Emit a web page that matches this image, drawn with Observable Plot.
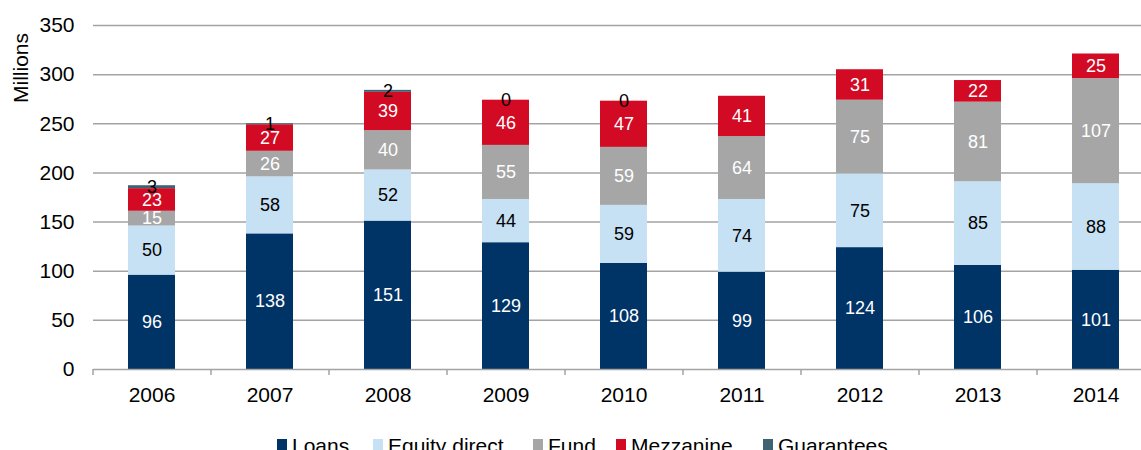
<!DOCTYPE html>
<html>
<head>
<meta charset="utf-8">
<script src="https://cdn.jsdelivr.net/npm/d3@7"></script>
<script src="https://cdn.jsdelivr.net/npm/@observablehq/plot@0.6"></script>
<style>
  html, body { margin: 0; padding: 0; background: #fff; overflow: hidden; }
  body { font-family: "Liberation Sans", Arial, sans-serif; }
  #legend { position: relative; height: 20px; font-size: 21px; color: #000; }
  #legend .item { position: absolute; top: 4.5px; line-height: 21px; white-space: nowrap; }
  #legend .sw { display: inline-block; width: 10px; height: 14px; margin-right: 5px; vertical-align: baseline; }
</style>
</head>
<body>
<div id="chart"></div>
<div id="legend"></div>
<script>
const years = ["2006", "2007", "2008", "2009", "2010", "2011", "2012", "2013", "2014"];
const loans = [96, 138, 151, 129, 108, 99, 124, 106, 101];
const equityDirect = [50, 58, 52, 44, 59, 74, 75, 85, 88];
const fund = [15, 26, 40, 55, 59, 64, 75, 81, 107];
const mezzanine = [23, 27, 39, 46, 47, 41, 31, 22, 25];
const guarantees = [3, 1, 2, 0, 0, null, null, null, null];
const seriesNames = ["Loans", "Equity direct", "Fund", "Mezzanine", "Guarantees"];
const seriesColors = ["#003366", "#c6e0f4", "#a6a6a6", "#d20a24", "#3f6372"];
const labelOnDark = [true, false, true, true, false];
const yTicks = [0, 50, 100, 150, 200, 250, 300, 350];

const seriesValues = [loans, equityDirect, fund, mezzanine, guarantees];

// long-form stacked table built from the arrays
const rows = [];
years.forEach((year, i) => {
  let base = 0;
  seriesValues.forEach((vals, s) => {
    const v = vals[i];
    if (v === null || v === undefined) return;
    rows.push({year, series: seriesNames[s], v, y1: base, y2: base + v, mid: base + v / 2, white: labelOnDark[s]});
    base += v;
  });
});

const W = 1141, H = 430;
const left = 93, rangeEnd = 1155;
const step = (rangeEnd - left) / years.length;
const font = "'Liberation Sans', Arial, sans-serif";

const chart = Plot.plot({
  width: W,
  height: H,
  marginLeft: left,
  marginRight: 0,
  marginTop: 25,
  marginBottom: 61,
  style: {fontFamily: font, background: "#fff", color: "#000"},
  x: {domain: years, range: [left, rangeEnd], paddingInner: 0.6, paddingOuter: 0.3, axis: null},
  y: {domain: [0, 350]},
  color: {domain: seriesNames, range: seriesColors},
  marks: [
    Plot.ruleY(yTicks.filter(d => d > 0), {stroke: "#a3a3a3", strokeWidth: 1.5}),
    Plot.rectY(rows, {x: "year", y1: "y1", y2: "y2", fill: "series"}),
    Plot.ruleY([0], {stroke: "#a3a3a3", strokeWidth: 1.5}),
    Plot.ruleX(years, {x: d => d, y1: 0, y2: -6.2, dx: -step / 2, stroke: "#a3a3a3", strokeWidth: 1.5}),
    Plot.text(rows.filter(d => d.white), {x: "year", y: "mid", text: d => String(d.v), fill: "#fff", fontSize: 18, lineAnchor: "middle"}),
    Plot.text(rows.filter(d => !d.white), {x: "year", y: "mid", text: d => String(d.v), fill: "#000", fontSize: 18, lineAnchor: "middle"}),
    Plot.text(years, {x: d => d, y: 0, dy: 26, text: d => d, fill: "#000", fontSize: 21, lineAnchor: "middle"}),
    Plot.axisY({ticks: yTicks, tickSize: 0, tickPadding: 19, fontSize: 21, label: null, fill: "#000"})
  ]
});

d3.select(chart).append("text")
  .attr("transform", "translate(28,68) rotate(-90)")
  .attr("text-anchor", "middle")
  .attr("font-size", 21)
  .attr("font-family", font)
  .attr("fill", "#000")
  .text("Millions");

document.getElementById("chart").appendChild(chart);

const legendLefts = [277, 373, 533, 616, 763];
const legend = d3.select("#legend");
seriesNames.forEach((name, i) => {
  const item = legend.append("div").attr("class", "item").style("left", legendLefts[i] + "px");
  item.append("span").attr("class", "sw").style("background", seriesColors[i]);
  item.append("span").text(name);
});
</script>
</body>
</html>
